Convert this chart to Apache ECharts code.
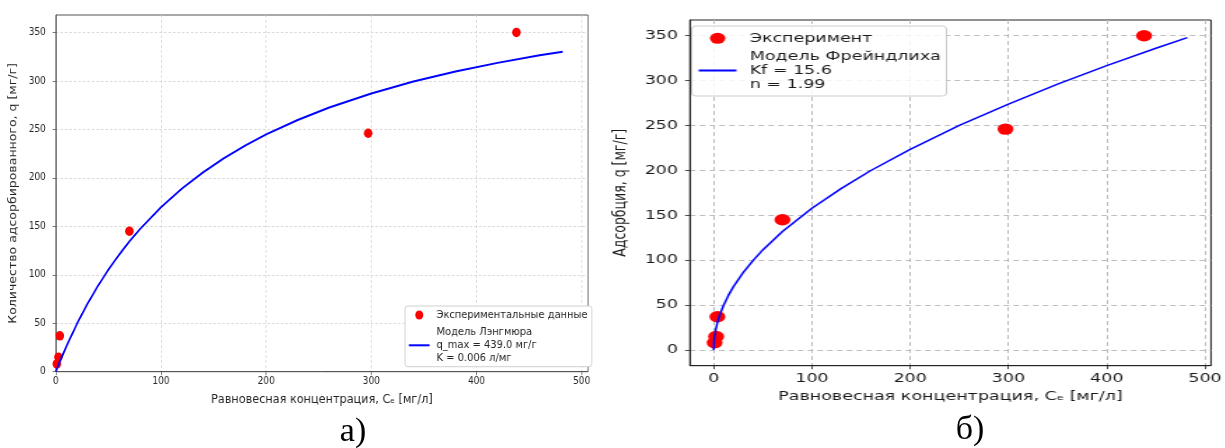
<!DOCTYPE html>
<html><head><meta charset="utf-8">
<script src="https://cdn.jsdelivr.net/npm/echarts@6/dist/echarts.min.js"></script>
<style>
html,body{margin:0;padding:0;background:#fff;width:1225px;height:448px;overflow:hidden;}
#bg{position:absolute;left:0;top:0;width:1225px;height:448px;}
#ca{position:absolute;left:0;top:0;width:667px;height:448px;transform:scaleX(0.9);transform-origin:0 0;}
#cb{position:absolute;left:600px;top:0;width:447px;height:448px;transform:scaleX(1.4);transform-origin:0 0;}
</style></head><body>
<div id="bg"></div><div id="ca"></div><div id="cb"></div>
<script>
const ceExp = [1, 2.5, 3.8, 70, 297, 438];
const qExp = [8, 15, 37, 145, 246, 350];
// Langmuir model curve
const ceLang = [0, 5, 10, 20, 30, 40, 50, 60, 70, 80, 100, 120, 140, 160, 180, 200, 230, 260, 300, 340, 380, 420, 460, 482];
const qLang = [0, 13.4, 26.0, 49.1, 69.8, 88.4, 105.2, 120.4, 134.4, 147.1, 169.7, 189.0, 205.7, 220.4, 233.3, 244.8, 259.7, 272.6, 287.0, 299.3, 309.7, 318.6, 326.4, 330.2];
// Freundlich model curve
const ceFr = [0, 0.1, 0.25, 0.5, 1, 2, 4, 6, 10, 15, 20, 30, 40, 50, 70, 100, 130, 160, 200, 250, 300, 350, 400, 450, 482];
const qFr = [0, 4.9, 7.8, 11.0, 15.6, 22.1, 31.3, 38.4, 49.6, 60.8, 70.3, 86.2, 99.6, 111.4, 131.9, 157.8, 180.0, 199.9, 223.5, 250.1, 273.9, 296.1, 316.7, 336.0, 347.8];
// Ticks
const xTicks = [0, 100, 200, 300, 400, 500];
const yTicks = [0, 50, 100, 150, 200, 250, 300, 350];
// Texts
const xTitle = 'Равновесная концентрация, Cₑ [мг/л]';
const yTitleA = 'Количество адсорбированного, q [мг/г]';
const yTitleB = 'Адсорбция, q [мг/г]';
const legExpA = 'Экспериментальные данные';
const legModA = 'Модель Лэнгмюра\nq_max = 439.0 мг/г\nK = 0.006 л/мг';
const legExpB = 'Эксперимент';
const legModB = 'Модель Фрейндлиха\nKf = 15.6\nn = 1.99';

const zip = (a, b) => a.map((v, i) => [v, b[i]]);
const FONT = 'DejaVu Sans';

// background with panel captions
const bg = echarts.init(document.getElementById('bg'));
bg.setOption({
  backgroundColor: '#fff',
  graphic: [
    {type: 'text', x: 353, y: 432, style: {text: 'а)', font: '34px "Liberation Serif"', fill: '#000', textAlign: 'center', textVerticalAlign: 'middle'}},
    {type: 'text', x: 970, y: 430, style: {text: 'б)', font: '34px "Liberation Serif"', fill: '#000', textAlign: 'center', textVerticalAlign: 'middle'}}
  ]
});

// Panel a
const ca = echarts.init(document.getElementById('ca'));
const txtA = '#262626';
ca.setOption({
  backgroundColor: 'transparent',
  animation: false,
  grid: {left: 57.4, top: 15, width: 595.9, height: 356.7, show: true, borderColor: '#555', borderWidth: 1, backgroundColor: 'transparent'},
  legend: {
    orient: 'vertical', left: 450, top: 306,
    padding: [2.4, 5, 1.6, 3.3], itemGap: 3.9, itemWidth: 23, itemHeight: 9,
    backgroundColor: '#fff', borderColor: '#d0d0d0', borderWidth: 1, borderRadius: 3,
    textStyle: {fontFamily: FONT, fontSize: 11, lineHeight: 13.2, color: txtA, padding: [0, 0, 0, 2.7]},
    data: [{name: legExpA, icon: 'circle'}, {name: legModA, itemStyle: {opacity: 0}}]
  },
  xAxis: {
    type: 'value', min: 0, max: 506,
    name: xTitle, nameLocation: 'middle', nameGap: 21.5,
    nameTextStyle: {fontFamily: FONT, fontSize: 12.5, color: txtA},
    axisLine: {show: true, lineStyle: {color: '#555', width: 1}},
    axisTick: {show: true, inside: false, length: 3.5, customValues: xTicks, lineStyle: {color: '#555', width: 0.8}},
    axisLabel: {customValues: xTicks, margin: 5, fontFamily: FONT, fontSize: 10, color: txtA},
    splitLine: {show: true, lineStyle: {color: '#d2d2d2', width: 0.8, type: [3, 2]}}
  },
  yAxis: {
    type: 'value', min: 0, max: 368,
    name: yTitleA, nameLocation: 'middle', nameGap: 35,
    nameTextStyle: {fontFamily: FONT, fontSize: 12.5, color: txtA},
    axisLine: {show: true, lineStyle: {color: '#555', width: 1}},
    axisTick: {show: true, inside: false, length: 3.5, customValues: yTicks, lineStyle: {color: '#555', width: 0.8}},
    axisLabel: {customValues: yTicks, margin: 11, fontFamily: FONT, fontSize: 10, color: txtA},
    splitLine: {show: true, lineStyle: {color: '#d2d2d2', width: 0.8, type: [3, 2]}}
  },
  series: [
    {name: legExpA, type: 'scatter', data: zip(ceExp, qExp), symbol: 'circle', symbolSize: 9.5, itemStyle: {color: '#ff0000', opacity: 1}, z: 3},
    {name: legModA, type: 'line', data: zip(ceLang, qLang), symbol: 'none', smooth: false, lineStyle: {color: '#0000ff', width: 2}, itemStyle: {color: '#0000ff'}, z: 4}
  ]
});

// Panel b
const cb = echarts.init(document.getElementById('cb'));
const txtB = '#1a1a1a';
cb.setOption({
  backgroundColor: 'transparent',
  animation: false,
  grid: {left: 59.2, top: 20, width: 379.2, height: 345.7, show: true, borderColor: '#222', borderWidth: 1, backgroundColor: 'transparent'},
  legend: {
    orient: 'vertical', left: 65.5, top: 26,
    padding: [5.4, 4, 4.8, 4], itemGap: 4.6, itemWidth: 27, itemHeight: 11,
    backgroundColor: 'rgba(255,255,255,0.85)', borderColor: '#cccccc', borderWidth: 1, borderRadius: 3,
    textStyle: {fontFamily: FONT, fontSize: 12.5, lineHeight: 13.8, color: txtB, padding: [0, 0, 0, 4.4]},
    data: [{name: legExpB, icon: 'circle'}, {name: legModB, itemStyle: {opacity: 0}}]
  },
  xAxis: {
    type: 'value', min: -24.1, max: 506.1,
    name: xTitle, nameLocation: 'middle', nameGap: 24.8,
    nameTextStyle: {fontFamily: FONT, fontSize: 12.5, color: txtB},
    axisLine: {show: true, onZero: false, lineStyle: {color: '#222', width: 1}},
    axisTick: {show: true, inside: false, length: 3.5, customValues: xTicks, lineStyle: {color: '#222', width: 0.8}},
    axisLabel: {customValues: xTicks, margin: 7, fontFamily: FONT, fontSize: 12.5, color: txtB},
    splitLine: {show: true, lineStyle: {color: '#bdbdbd', width: 1, type: [4, 3]}}
  },
  yAxis: {
    type: 'value', min: -17.5, max: 367.5,
    name: yTitleB, nameLocation: 'middle', nameGap: 36.7,
    nameTextStyle: {fontFamily: FONT, fontSize: 12.5, color: txtB},
    axisLine: {show: true, onZero: false, lineStyle: {color: '#222', width: 1}},
    axisTick: {show: true, inside: false, length: 3.5, customValues: yTicks, lineStyle: {color: '#222', width: 0.8}},
    axisLabel: {customValues: yTicks, margin: 8.5, fontFamily: FONT, fontSize: 12.5, color: txtB},
    splitLine: {show: true, lineStyle: {color: '#bdbdbd', width: 1, type: [4, 3]}}
  },
  series: [
    {name: legExpB, type: 'scatter', data: zip(ceExp, qExp), symbol: 'circle', symbolSize: 11.4, itemStyle: {color: '#ff0000', opacity: 1}, z: 3},
    {name: legModB, type: 'line', data: zip(ceFr, qFr), symbol: 'none', smooth: false, lineStyle: {color: '#0000ff', width: 1.5}, itemStyle: {color: '#0000ff'}, z: 4}
  ]
});
</script>
</body></html>
